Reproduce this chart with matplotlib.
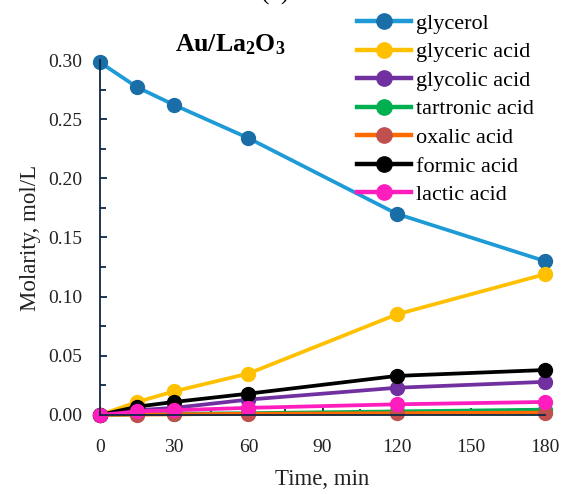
import matplotlib
matplotlib.use("Agg")
import matplotlib.pyplot as plt
from matplotlib.ticker import MultipleLocator, FormatStrFormatter

plt.rcParams['font.family'] = ['Liberation Serif', 'DejaVu Serif']
plt.rcParams['mathtext.fontset'] = 'custom'
plt.rcParams['mathtext.rm'] = 'Liberation Serif'
plt.rcParams['mathtext.bf'] = 'Liberation Serif:bold'

time = [0, 15, 30, 60, 120, 180]
glycerol = [0.298, 0.277, 0.262, 0.234, 0.170, 0.130]
glyceric = [0.0, 0.011, 0.020, 0.035, 0.085, 0.119]
glycolic = [0.0, 0.004, 0.006, 0.013, 0.023, 0.028]
tartronic = [0.0, 0.0005, 0.001, 0.0015, 0.003, 0.0045]
oxalic = [0.0, 0.0003, 0.0005, 0.001, 0.0015, 0.002]
formic = [0.0, 0.007, 0.011, 0.018, 0.033, 0.038]
lactic = [0.0, 0.003, 0.004, 0.006, 0.009, 0.011]

labels = ["glycerol", "glyceric acid", "glycolic acid", "tartronic acid",
          "oxalic acid", "formic acid", "lactic acid"]
series = [glycerol, glyceric, glycolic, tartronic, oxalic, formic, lactic]
line_colors = ["#1E9BD7", "#FFC000", "#7030A0", "#00B050", "#FF6A00", "#000000", "#FF1DBE"]
marker_colors = ["#1A6EA8", "#FFC000", "#7030A0", "#00B050", "#C0504D", "#000000", "#FF1DBE"]

fig = plt.figure(figsize=(5.62, 4.94), dpi=100)
ax = fig.add_axes([0.178, 0.160, 0.792, 0.7185])

for y, lab, lc, mc in zip(series, labels, line_colors, marker_colors):
    ax.plot(time, y, color=lc, lw=2.7, marker='o', markersize=10,
            markerfacecolor=mc, markeredgecolor=mc, label=lab, clip_on=False)

ax.set_xlim(0, 180)
ax.set_ylim(0, 0.30)
ax.xaxis.set_major_locator(MultipleLocator(30))
ax.xaxis.set_minor_locator(MultipleLocator(15))
ax.yaxis.set_major_locator(MultipleLocator(0.05))
ax.yaxis.set_minor_locator(MultipleLocator(0.025))
ax.yaxis.set_major_formatter(FormatStrFormatter('%.2f'))

spine_col = "#0E2841"
for s in ['top', 'right']:
    ax.spines[s].set_visible(False)
for s in ['left', 'bottom']:
    ax.spines[s].set_color(spine_col)
    ax.spines[s].set_linewidth(1.3)
ax.tick_params(which='both', direction='in', color=spine_col, width=1.3,
               labelsize=14, labelcolor='#222222')
ax.tick_params(which='major', length=5)
ax.tick_params(which='minor', length=4)
ax.tick_params(axis='y', which='major', pad=13)
ax.tick_params(axis='x', which='major', pad=17)

ax.set_xlabel("Time, min", fontsize=16.5, labelpad=10, color='#222222')
ax.set_ylabel("Molarity, mol/L", fontsize=16.5, labelpad=5, color='#222222')

ax.text(0.293, 1.043, r"$\mathbf{Au/La_2O_3}$", transform=ax.transAxes,
        ha='center', va='center', fontsize=18.5)

fig.text(0.49, 1.0, "(b)", ha='center', va='baseline', fontsize=18)

leg = ax.legend(loc='upper left', bbox_to_anchor=(0.578, 1.132), frameon=False,
                fontsize=16, handlelength=2.4, handletextpad=0.22,
                labelspacing=0.36, borderaxespad=0, borderpad=0,
                markerscale=1.1)
for h in leg.get_lines():
    h.set_linewidth(3.2)

fig.savefig("out.png", dpi=100)
